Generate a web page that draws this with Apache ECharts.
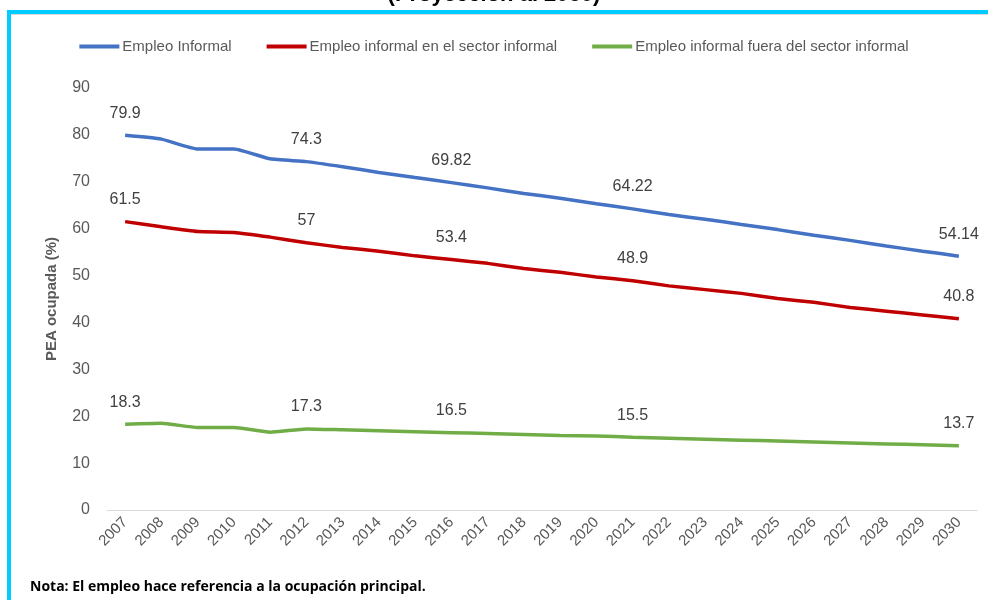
<!DOCTYPE html>
<html>
<head>
<meta charset="utf-8">
<script src="https://cdn.jsdelivr.net/npm/echarts@6/dist/echarts.min.js"></script>
<style>
  html, body { margin: 0; padding: 0; background: #fff; }
  #chart { width: 988px; height: 600px; }
</style>
</head>
<body>
<div id="chart"></div>
<script>
const years = ['2007','2008','2009','2010','2011','2012','2013','2014','2015','2016','2017','2018',
  '2019','2020','2021','2022','2023','2024','2025','2026','2027','2028','2029','2030'];

const informal = [79.9, 79.1, 77.0, 77.0, 74.9, 74.3, 73.2, 72.0, 70.9, 69.82, 68.7, 67.5,
  66.5, 65.3, 64.22, 63.0, 62.0, 60.9, 59.8, 58.6, 57.5, 56.3, 55.2, 54.14];
const enSector = [61.5, 60.4, 59.4, 59.2, 58.2, 57, 56.0, 55.2, 54.2, 53.4, 52.6, 51.5,
  50.7, 49.7, 48.9, 47.8, 47.0, 46.2, 45.1, 44.3, 43.2, 42.4, 41.6, 40.8];
const fueraSector = [18.3, 18.5, 17.6, 17.6, 16.6, 17.3, 17.1, 16.9, 16.7, 16.5, 16.3, 16.1,
  15.9, 15.8, 15.5, 15.3, 15.1, 14.9, 14.7, 14.5, 14.3, 14.1, 13.9, 13.7];

// indices que llevan etiqueta
const labelIdx = [0, 5, 9, 14, 23];

const chart = echarts.init(document.getElementById('chart'));

function makeSeries(name, data, color) {
  return {
    name: name,
    type: 'line',
    data: data,
    smooth: 0.15,
    symbol: 'circle',
    symbolSize: 0,
    lineStyle: { width: 3.5, color: color },
    itemStyle: { color: color },
    label: {
      show: true,
      position: 'top',
      distance: 14,
      fontSize: 16,
      color: '#404040',
      fontFamily: 'Liberation Sans',
      formatter: p => labelIdx.indexOf(p.dataIndex) >= 0 ? String(p.value) : ''
    },
    emphasis: { disabled: true }
  };
}

const option = {
  animation: false,
  graphic: [
    { type: 'rect', shape: { x: 8, y: 10, width: 980, height: 4 }, style: { fill: '#00CCFF' } },
    { type: 'rect', shape: { x: 7, y: 10, width: 4, height: 590 }, style: { fill: '#00CCFF' } },
    { type: 'rect', shape: { x: 11, y: 14, width: 977, height: 1 }, style: { fill: '#D9D9D9' } },
    {
      type: 'text', left: 'center', top: -16,
      style: { text: '(Proyección al 2030)', font: 'bold 22px "Liberation Sans"', fill: '#000' }
    },
    {
      type: 'text', left: 30, top: 580,
      style: {
        text: 'Nota: El empleo hace referencia a la ocupación principal.',
        font: 'bold 14px "Open Sans"', fill: '#000'
      }
    }
  ],
  legend: {
    top: 34,
    left: 'center',
    icon: 'rect',
    itemWidth: 40,
    itemHeight: 4,
    itemGap: 35,
    textStyle: { fontSize: 15, color: '#595959', fontFamily: 'Liberation Sans', padding: [0, 0, 0, -2] },
    data: ['Empleo Informal', 'Empleo informal en el sector informal', 'Empleo informal fuera del sector informal']
  },
  grid: { left: 107, right: 11, top: 88, bottom: 90 },
  xAxis: {
    type: 'category',
    data: years,
    boundaryGap: true,
    axisLine: { lineStyle: { color: '#D9D9D9', width: 1 } },
    axisTick: { show: false },
    axisLabel: { rotate: 45, fontSize: 15, color: '#595959', margin: 10, interval: 0, fontFamily: 'Liberation Sans' }
  },
  yAxis: {
    type: 'value',
    min: 0,
    max: 90,
    interval: 10,
    name: 'PEA ocupada (%)',
    nameLocation: 'middle',
    nameGap: 48,
    nameTextStyle: { fontSize: 15, fontWeight: 'bold', color: '#595959', fontFamily: 'Liberation Sans' },
    splitLine: { show: false },
    axisLine: { show: false },
    axisTick: { show: false },
    axisLabel: { fontSize: 16, color: '#595959', margin: 17, fontFamily: 'Liberation Sans' }
  },
  series: [
    makeSeries('Empleo Informal', informal, '#4472C4'),
    makeSeries('Empleo informal en el sector informal', enSector, '#C00000'),
    makeSeries('Empleo informal fuera del sector informal', fueraSector, '#70AD47')
  ]
};

chart.setOption(option);
</script>
</body>
</html>
